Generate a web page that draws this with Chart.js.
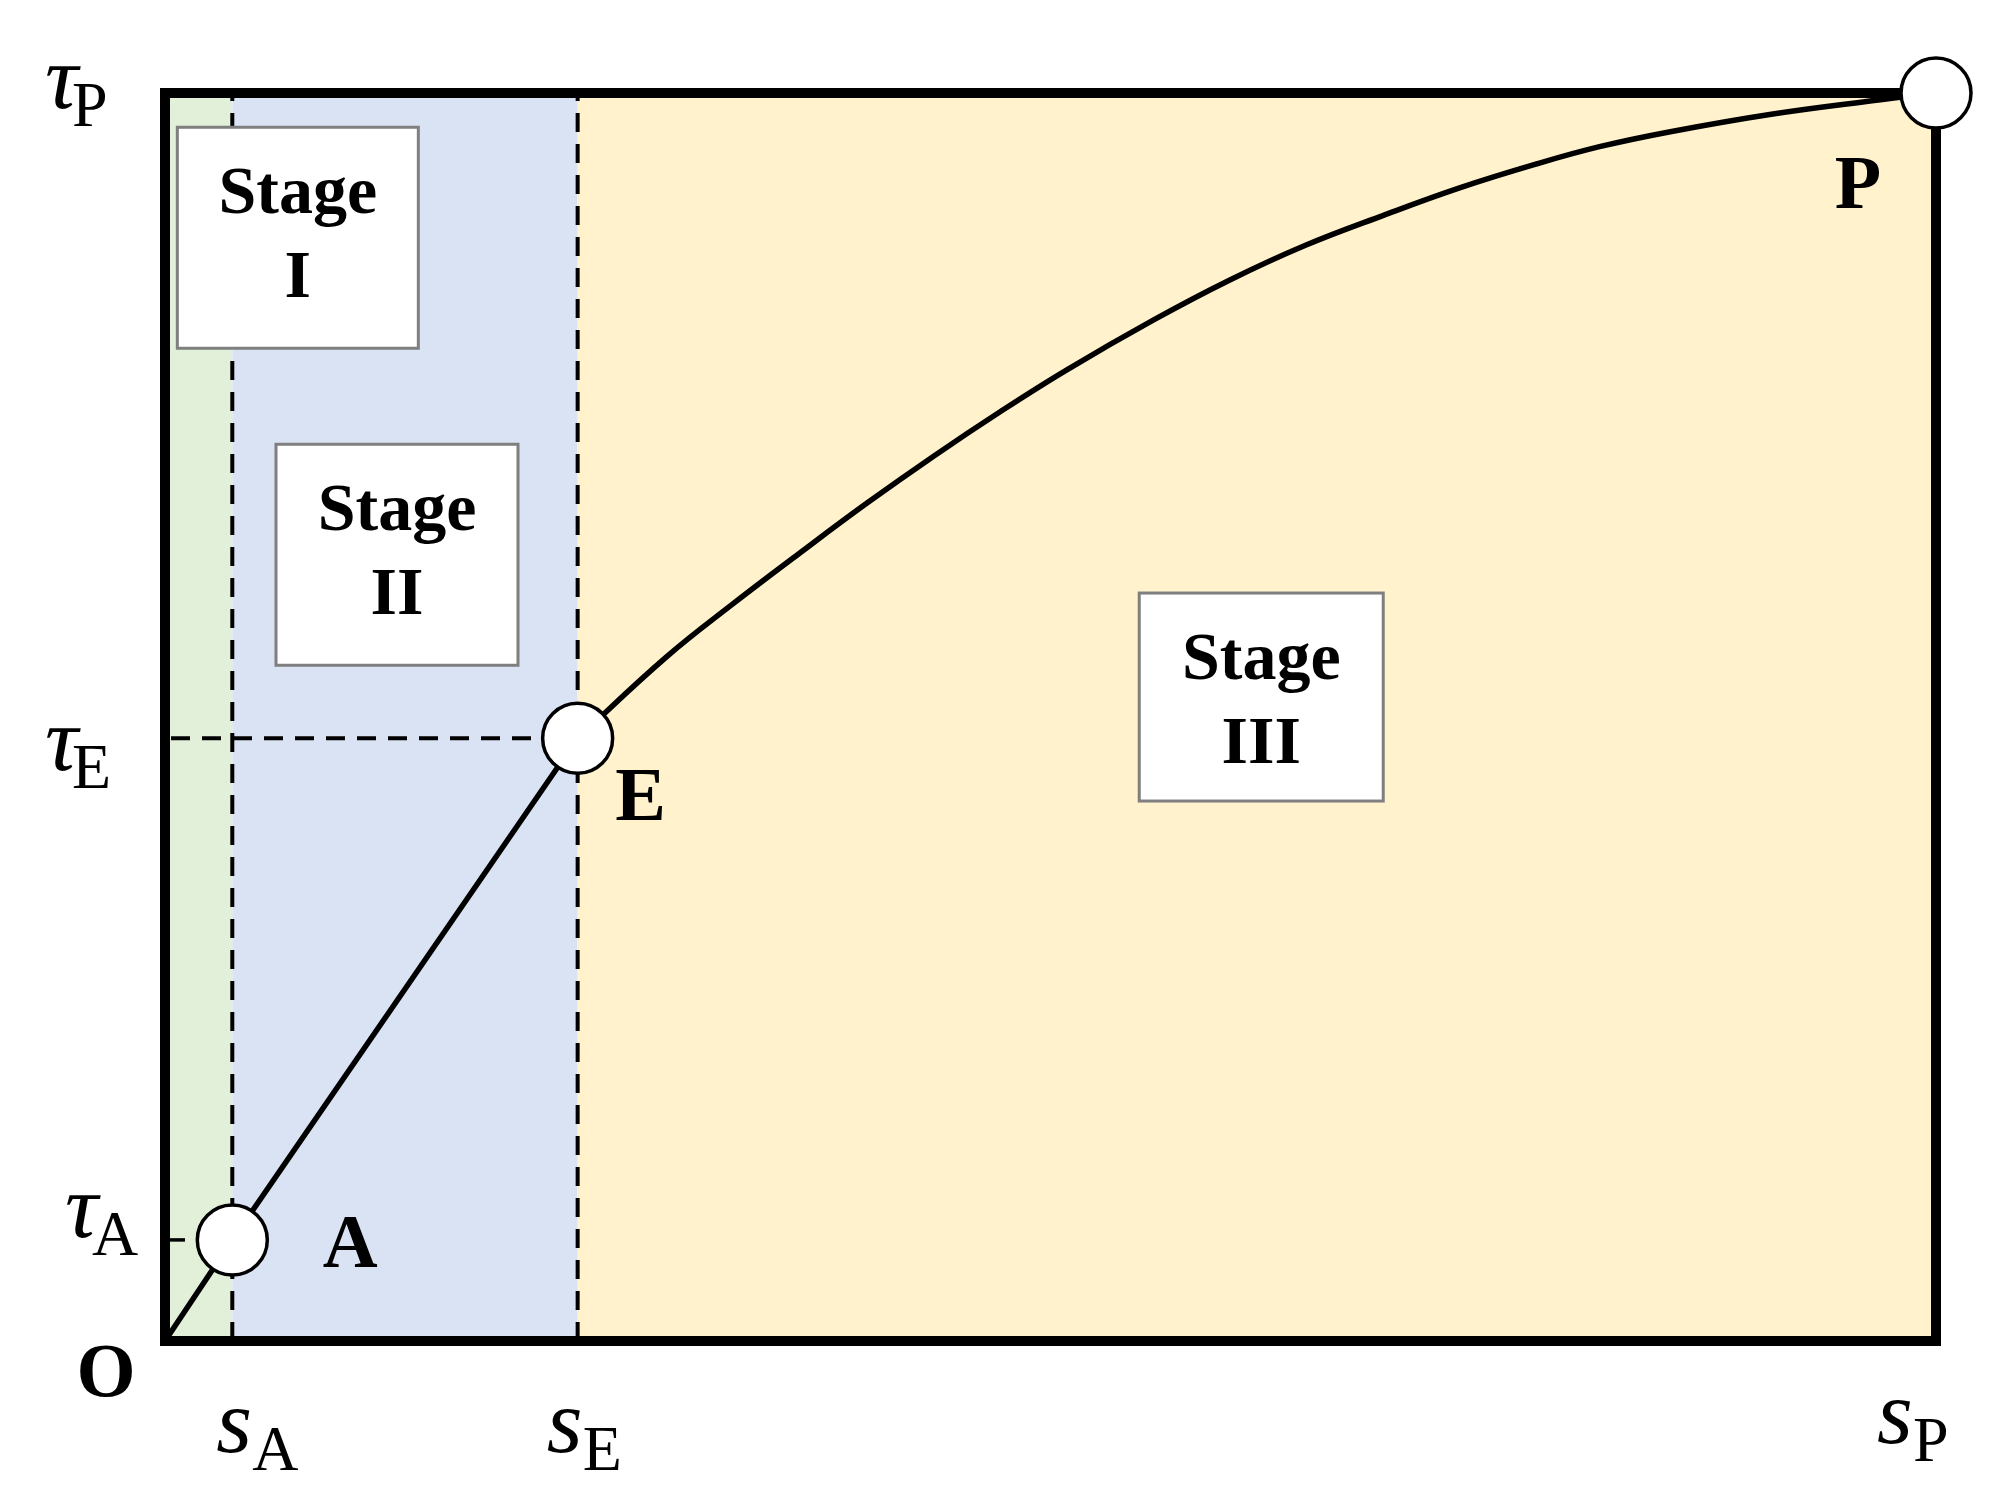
<!DOCTYPE html>
<html>
<head>
<meta charset="utf-8">
<script src="https://cdn.jsdelivr.net/npm/chart.js@4.4.1/dist/chart.umd.min.js"></script>
<style>
  html, body { margin: 0; padding: 0; background: #ffffff; }
  canvas { display: block; }
</style>
</head>
<body>
<canvas id="chart" width="2004" height="1502"></canvas>
<script>
// ---------- DATA (normalised: s_P = 100, tau_P = 100) ----------
const sA = 3.8, sE = 23.3, sP = 100;
const tauA = 8.1, tauE = 48.3, tauP = 100;

// Stage I + II : straight rise O -> A -> E
const linearX = [0, sA, sE];
const linearY = [0, tauA, tauE];

// Stage III : curved rise E -> P
const curveX = [23.3, 28.3, 32.1, 35.9, 39.6, 43.4, 47.2, 50.9, 55.8, 60.1, 64.4, 68.8, 73.1, 77.4, 81.0, 85.0, 90.7, 96.5, 100];
const curveY = [48.3, 54.8, 59.1, 63.2, 67.1, 70.9, 74.5, 77.8, 81.8, 85.0, 87.8, 90.2, 92.4, 94.3, 95.7, 96.9, 98.3, 99.4, 100];

// Characteristic points
const pointNames = ['A', 'E', 'P'];
const pointX = [sA, sE, sP];
const pointY = [tauA, tauE, tauP];
const originName = 'O';

// Stages
const stageNames = ['I', 'II', 'III'];
const stageBounds = [0, sA, sE, sP];
const stageBoxX = [7.5, 13.1, 61.9];
const stageBoxY = [88.4, 63.0, 51.6];

// Axis tick labels
const xTickValues = [sA, sE, sP];
const xTickMain = ['s', 's', 's'];
const xTickSub = ['A', 'E', 'P'];
const yTickValues = [tauA, tauE, tauP];
const yTickMain = ['τ', 'τ', 'τ'];
const yTickSub = ['A', 'E', 'P'];

// ---------- STYLE ----------
const STAGE_COLORS = ['#E2F0D9', '#DAE3F3', '#FFF2CC'];
const BOX_W = [241, 242, 244];
const BOX_H = [221, 221, 208];
const BOX_LINE1 = 86, BOX_LINE2 = 170;
const SERIF = '"Liberation Serif", "Times New Roman", serif';
const POINT_LABEL_OFF = { A: [118, 27], E: [63, 82], P: [-78, 115] };
const ORIGIN_LABEL_OFF = [-59, 55];
const Y_LABEL_OFF = [[-100, -3], [-120, 32], [-120, 15]];
const X_LABEL_OFF = [[-16, 111], [-31, 111], [-59, 102]];
const SUB_DX_Y = 27, SUB_DX_X = 36, SUB_DY = 18;

const xy = (xs, ys) => xs.map((v, i) => ({ x: v, y: ys[i] }));

function drawSubLabel(ctx, main, sub, left, baseline, subDx) {
  ctx.textAlign = 'left';
  ctx.textBaseline = 'alphabetic';
  ctx.fillStyle = '#000';
  ctx.font = 'italic 92px ' + SERIF;
  ctx.fillText(main, left, baseline);
  ctx.font = '64px ' + SERIF;
  ctx.fillText(sub, left + subDx, baseline + SUB_DY);
}

const diagramPlugin = {
  id: 'diagram',
  beforeDatasetsDraw(chart) {
    const { ctx, chartArea: a, scales: { x, y } } = chart;
    ctx.save();
    // stage backgrounds
    for (let i = 0; i < STAGE_COLORS.length; i++) {
      const x0 = x.getPixelForValue(stageBounds[i]);
      const x1 = x.getPixelForValue(stageBounds[i + 1]);
      ctx.fillStyle = STAGE_COLORS[i];
      ctx.fillRect(x0, a.top, x1 - x0, a.bottom - a.top);
    }
    // dashed guide lines
    ctx.strokeStyle = '#000';
    ctx.lineWidth = 4;
    ctx.setLineDash([19, 12]);
    [sA, sE].forEach(v => {
      const px = x.getPixelForValue(v);
      ctx.beginPath(); ctx.moveTo(px, a.bottom); ctx.lineTo(px, a.top); ctx.stroke();
    });
    const yE = y.getPixelForValue(tauE);
    ctx.beginPath(); ctx.moveTo(a.left + 6, yE); ctx.lineTo(x.getPixelForValue(sE), yE); ctx.stroke();
    ctx.setLineDash([]);
    // tau_A tick
    const yA = y.getPixelForValue(tauA);
    ctx.lineWidth = 3.5;
    ctx.beginPath(); ctx.moveTo(a.left, yA); ctx.lineTo(a.left + 20, yA); ctx.stroke();
    // stage boxes
    for (let i = 0; i < stageNames.length; i++) {
      const cx = x.getPixelForValue(stageBoxX[i]);
      const cy = y.getPixelForValue(stageBoxY[i]);
      const w = BOX_W[i], h = BOX_H[i];
      const left = cx - w / 2, top = cy - h / 2;
      ctx.fillStyle = '#ffffff';
      ctx.fillRect(left, top, w, h);
      ctx.strokeStyle = '#7F7F7F';
      ctx.lineWidth = 3;
      ctx.strokeRect(left, top, w, h);
      ctx.fillStyle = '#000';
      ctx.font = 'bold 68px ' + SERIF;
      ctx.textAlign = 'center';
      ctx.textBaseline = 'alphabetic';
      ctx.fillText('Stage', cx, top + BOX_LINE1);
      ctx.fillText(stageNames[i], cx, top + BOX_LINE2);
    }
    // frame
    ctx.strokeStyle = '#000';
    ctx.lineWidth = 10;
    ctx.strokeRect(a.left, a.top, a.right - a.left, a.bottom - a.top);
    ctx.restore();
  },
  afterDraw(chart) {
    const { ctx, chartArea: a, scales: { x, y } } = chart;
    ctx.save();
    // point labels
    ctx.fillStyle = '#000';
    ctx.font = 'bold 76px ' + SERIF;
    ctx.textAlign = 'center';
    ctx.textBaseline = 'alphabetic';
    pointNames.forEach((n, i) => {
      const off = POINT_LABEL_OFF[n];
      ctx.fillText(n, x.getPixelForValue(pointX[i]) + off[0], y.getPixelForValue(pointY[i]) + off[1]);
    });
    ctx.fillText(originName, x.getPixelForValue(0) + ORIGIN_LABEL_OFF[0], y.getPixelForValue(0) + ORIGIN_LABEL_OFF[1]);
    // y tick labels
    yTickValues.forEach((v, i) => {
      drawSubLabel(ctx, yTickMain[i], yTickSub[i], a.left + Y_LABEL_OFF[i][0], y.getPixelForValue(v) + Y_LABEL_OFF[i][1], SUB_DX_Y);
    });
    // x tick labels
    xTickValues.forEach((v, i) => {
      drawSubLabel(ctx, xTickMain[i], xTickSub[i], x.getPixelForValue(v) + X_LABEL_OFF[i][0], a.bottom + X_LABEL_OFF[i][1], SUB_DX_X);
    });
    ctx.restore();
  }
};

new Chart(document.getElementById('chart'), {
  type: 'scatter',
  data: {
    datasets: [
      {
        label: 'Points',
        data: xy(pointX, pointY),
        showLine: false,
        pointRadius: 35,
        pointHoverRadius: 35,
        pointBackgroundColor: '#ffffff',
        pointBorderColor: '#000000',
        pointBorderWidth: 3.5,
        clip: false,
        order: 0
      },
      {
        label: 'Stage III curve',
        data: xy(curveX, curveY),
        showLine: true,
        borderColor: '#000000',
        borderWidth: 5.5,
        pointRadius: 0,
        tension: 0.4,
        clip: false,
        order: 1
      },
      {
        label: 'Stage I-II line',
        data: xy(linearX, linearY),
        showLine: true,
        borderColor: '#000000',
        borderWidth: 5.5,
        pointRadius: 0,
        tension: 0,
        clip: false,
        order: 1
      }
    ]
  },
  options: {
    responsive: false,
    animation: false,
    events: [],
    layout: { padding: { left: 165, right: 68, top: 93, bottom: 161 } },
    plugins: { legend: { display: false }, tooltip: { enabled: false } },
    scales: {
      x: { type: 'linear', min: 0, max: 100, display: false },
      y: { type: 'linear', min: 0, max: 100, display: false }
    }
  },
  plugins: [diagramPlugin]
});
</script>
</body>
</html>
